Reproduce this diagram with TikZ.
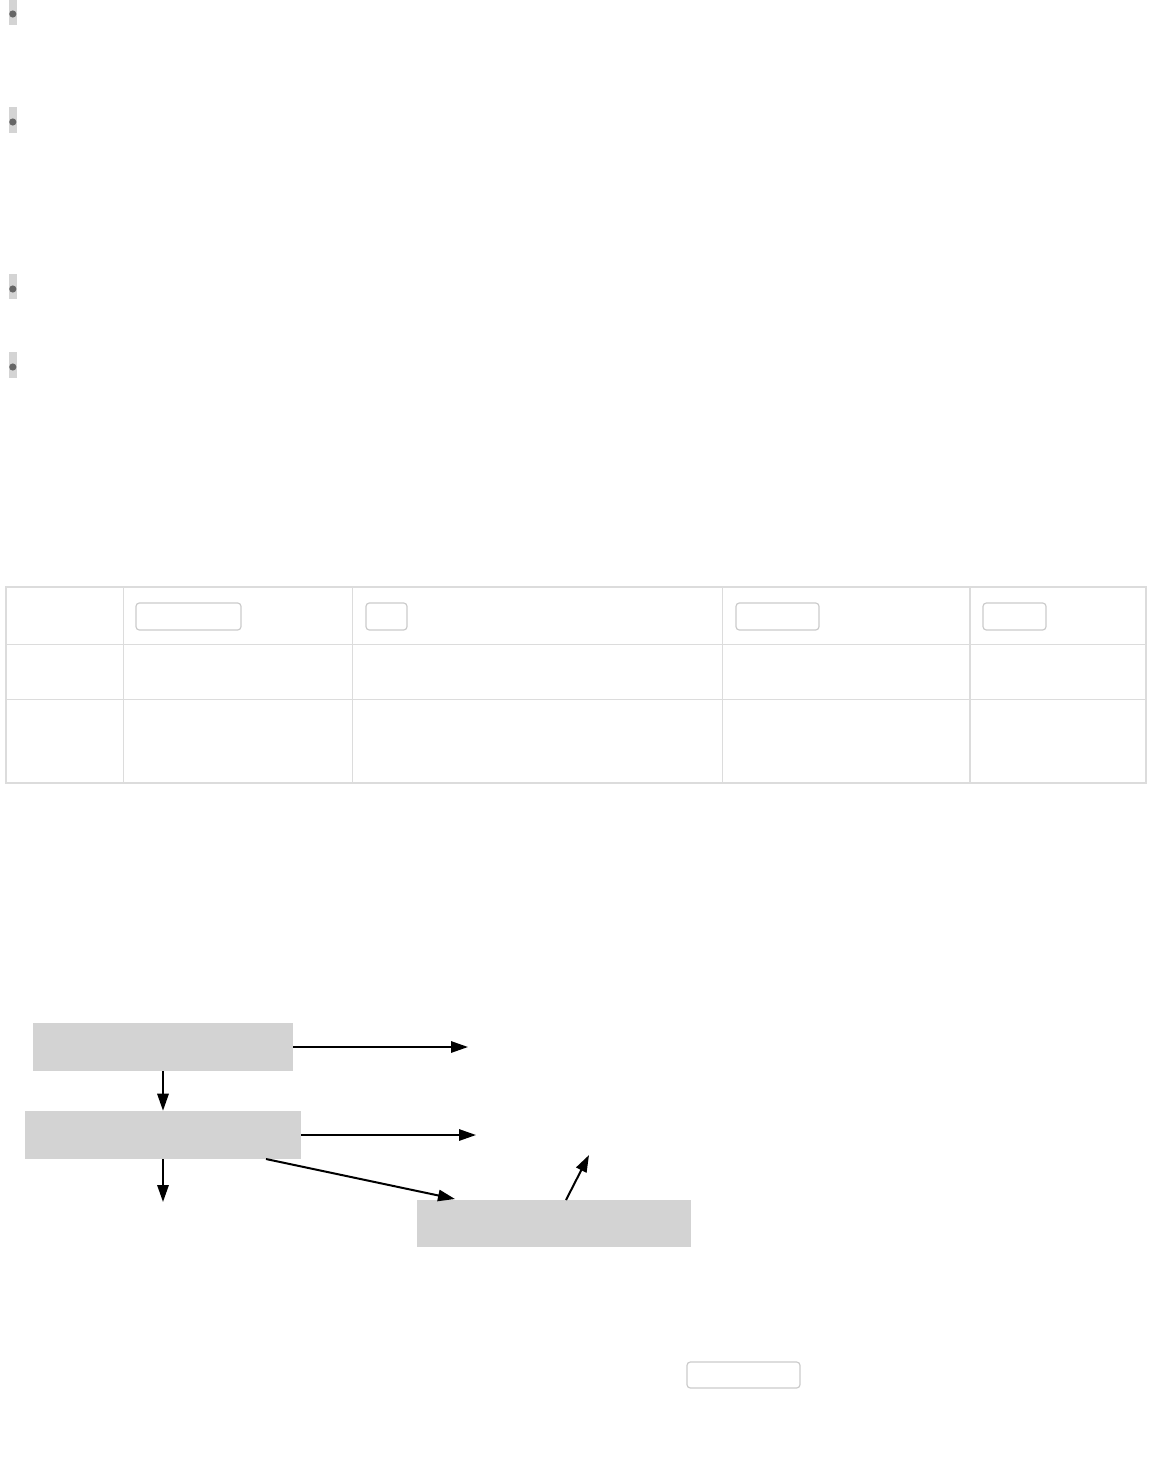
\documentclass[tikz,border=0pt]{standalone}
\usetikzlibrary{arrows.meta}
\definecolor{boxgray}{HTML}{D3D3D3}
\definecolor{bulbg}{HTML}{D4D4D4}
\definecolor{buldot}{HTML}{666666}
\definecolor{tline}{HTML}{DCDCDC}
\definecolor{btnline}{HTML}{CCCCCC}
\tikzset{
  flowbox/.style={fill=boxgray, draw=none, inner sep=0pt, minimum height=36pt},
  btn/.style={draw=btnline, line width=0.9pt, rounded corners=2.5pt, fill=white, inner sep=0pt, minimum height=20.25pt},
  arr/.style={line width=1.5pt, -{Triangle[length=12.75pt, width=8.5pt]}},
  bulletbg/.style={fill=bulbg, draw=none},
  bulletdot/.style={fill=buldot, draw=none},
  inner/.style={draw=tline, line width=0.75pt},
  outer/.style={draw=tline, line width=1.5pt}
}
\begin{document}
\begin{tikzpicture}[x=0.75pt, y=-0.75pt]
\useasboundingbox[fill=white] (0,0) rectangle (1152,1466);

% bullets
\foreach \ya/\yb/\yc in {0/25/14, 107/133/122, 274/299/289, 352/378/367}{
  \fill[bulletbg] (9,\ya) rectangle (17,\yb);
  \fill[bulletdot] (12.8,\yc) circle (3.6);
}

% table
\draw[inner] (6,644) -- (1146,644);
\draw[inner] (6,699) -- (1146,699);
\foreach \xx in {123,352,722}{ \draw[inner] (\xx,587) -- (\xx,783); }
\draw[outer] (970,587) -- (970,783);
\draw[outer] (6,587) rectangle (1146,783);

% header buttons
\node[btn, minimum width=78.75pt] (b1) at (188.5,616.5) {};
\node[btn, minimum width=30.75pt] (b2) at (386.5,616.5) {};
\node[btn, minimum width=62.25pt] (b3) at (777.5,616.5) {};
\node[btn, minimum width=47.25pt] (b4) at (1014.5,616.5) {};

% flow boxes
\node[flowbox, minimum width=195pt] (f1) at (163,1047) {};
\node[flowbox, minimum width=207pt] (f2) at (163,1135) {};
\node[flowbox, minimum width=205.5pt, minimum height=35.25pt] (f3) at (554,1223.5) {};

\coordinate (e1) at (468,1047);
\coordinate (e2) at (476,1135);
\coordinate (e3) at (163,1202);
\coordinate (d1) at (266,1159);
\coordinate (d2) at (455,1199);
\coordinate (u1) at (566,1200);
\coordinate (u2) at (589,1155);

\draw[arr] (f1.east) -- (e1);
\draw[arr] (f1.south) -- (f2.north);
\draw[arr] (f2.east) -- (e2);
\draw[arr] (f2.south) -- (e3);
\draw[arr] (d1) -- (d2);
\draw[arr] (u1) -- (u2);

% bottom button
\node[btn, minimum width=84.75pt, minimum height=19.5pt] (b5) at (743.5,1375) {};
\end{tikzpicture}
\end{document}
